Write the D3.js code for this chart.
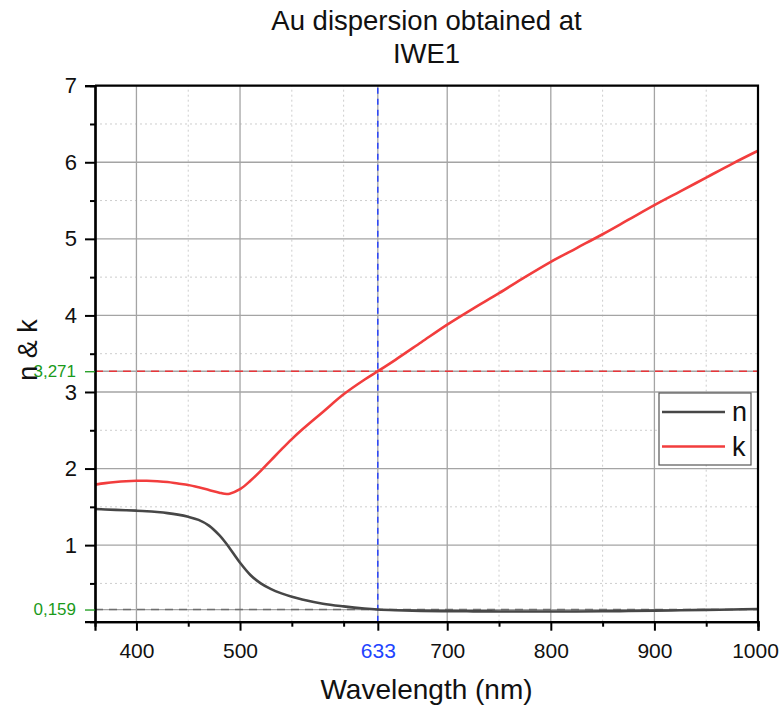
<!DOCTYPE html>
<html>
<head>
<meta charset="utf-8">
<script src="https://cdn.jsdelivr.net/npm/d3@7"></script>
<style>
  body { margin: 0; background: #fff; }
  svg { font-family: Arial, "Liberation Sans", sans-serif; }
</style>
</head>
<body>
<svg id="chart" width="781" height="711"></svg>
<script>
// wavelengths (nm) and the two dispersion series
let wavelength = [360, 370, 380, 390, 400, 410, 420, 430, 440, 450, 460, 470, 480, 485, 490, 500, 510, 520, 530, 540, 550, 560, 580, 600, 620, 633, 650, 675, 700, 725, 750, 775, 800, 825, 850, 875, 900, 925, 950, 975, 1000]
let n_values = [1.472, 1.465, 1.46, 1.455, 1.45, 1.443, 1.432, 1.418, 1.398, 1.37, 1.33, 1.255, 1.13, 1.05, 0.96, 0.77, 0.61, 0.5, 0.425, 0.37, 0.325, 0.29, 0.235, 0.2, 0.172, 0.159, 0.15, 0.142, 0.138, 0.135, 0.134, 0.133, 0.133, 0.134, 0.136, 0.14, 0.144, 0.149, 0.154, 0.16, 0.165]
let k_values = [1.79, 1.81, 1.825, 1.835, 1.84, 1.84, 1.835, 1.825, 1.805, 1.785, 1.755, 1.72, 1.685, 1.67, 1.672, 1.73, 1.84, 1.97, 2.11, 2.25, 2.385, 2.51, 2.74, 2.97, 3.16, 3.271, 3.42, 3.65, 3.88, 4.09, 4.29, 4.5, 4.7, 4.88, 5.06, 5.25, 5.44, 5.62, 5.8, 5.98, 6.15]

let x_major = [400, 500, 633, 700, 800, 900, 1000]
let x_minor = [450, 550, 600, 750, 850, 950]
let y_major = [1, 2, 3, 4, 5, 6, 7]
let y_minor = [0.5, 1.5, 2.5, 3.5, 4.5, 5.5, 6.5]
let marker_wavelength = 633
let marker_k = 3.271
let marker_n = 0.159

let series = [
  {name: "n", values: n_values, color: "#474747"},
  {name: "k", values: k_values, color: "#f23d3d"}
]

function make_scales(margin, width, height) {
  return {
    x: d3.scaleLinear().domain([360, 1000]).range([margin.left, width - margin.right]),
    y: d3.scaleLinear().domain([0, 7]).range([height - margin.bottom, margin.top])
  }
}

function draw_grid(svg, scales) {
  let g = svg.append("g")
  let [x0, x1] = scales.x.range()
  let [y0, y1] = scales.y.range()

  g.selectAll(".xminor").data(x_minor).enter().append("line")
    .attr("x1", d => scales.x(d)).attr("x2", d => scales.x(d))
    .attr("y1", y0).attr("y2", y1)
    .attr("stroke", "#cdcdcd").attr("stroke-dasharray", "2,3")
  g.selectAll(".yminor").data(y_minor).enter().append("line")
    .attr("y1", d => scales.y(d)).attr("y2", d => scales.y(d))
    .attr("x1", x0).attr("x2", x1)
    .attr("stroke", "#cdcdcd").attr("stroke-dasharray", "2,3")

  g.selectAll(".xmajor").data(x_major).enter().append("line")
    .attr("x1", d => scales.x(d)).attr("x2", d => scales.x(d))
    .attr("y1", y0).attr("y2", y1)
    .attr("stroke", "#a4a4a4").attr("stroke-width", 1.3)
  g.selectAll(".ymajor").data(y_major.concat([marker_k, marker_n])).enter().append("line")
    .attr("y1", d => scales.y(d)).attr("y2", d => scales.y(d))
    .attr("x1", x0).attr("x2", x1)
    .attr("stroke", "#a4a4a4").attr("stroke-width", 1.3)
}

function draw_markers(svg, scales) {
  let [x0, x1] = scales.x.range()
  let [y0, y1] = scales.y.range()
  svg.append("line")
    .attr("x1", x0).attr("x2", x1)
    .attr("y1", scales.y(marker_k)).attr("y2", scales.y(marker_k))
    .attr("stroke", "#e8363a").attr("stroke-width", 1.4).attr("stroke-dasharray", "8,6")
  svg.append("line")
    .attr("x1", x0).attr("x2", x1)
    .attr("y1", scales.y(marker_n)).attr("y2", scales.y(marker_n))
    .attr("stroke", "#6e6e6e").attr("stroke-width", 1.4).attr("stroke-dasharray", "8,6")
  svg.append("line")
    .attr("x1", scales.x(marker_wavelength)).attr("x2", scales.x(marker_wavelength))
    .attr("y1", y0).attr("y2", y1)
    .attr("stroke", "#1f3cff").attr("stroke-width", 1.4).attr("stroke-dasharray", "6,5")
}

function draw_lines(svg, scales) {
  let line_generator = d3.line()
    .x((d, i) => scales.x(wavelength[i]))
    .y(d => scales.y(d))
    .curve(d3.curveCatmullRom.alpha(0.5))

  svg.append("g").selectAll("path")
    .data(series).enter()
    .append("path")
    .attr("d", d => line_generator(d.values))
    .attr("fill", "none")
    .attr("stroke", d => d.color)
    .attr("stroke-width", 2.6)
}

function draw_axes(svg, scales, margin, width, height) {
  let bottom = height - margin.bottom
  let left = margin.left

  let x_axis = svg.append("g")
    .attr("transform", `translate(0, ${bottom})`)
    .call(d3.axisBottom(scales.x).tickValues(x_major).tickSize(9).tickPadding(12)
      .tickFormat(d3.format("d")))
  x_axis.selectAll("text").attr("font-size", 21)
    .attr("fill", d => d == marker_wavelength ? "#2244ff" : "#111")
    .attr("dx", d => d == 1000 ? -3 : 0)
  x_axis.selectAll(".tick line").attr("stroke-width", 2)

  let x_minor_axis = svg.append("g")
    .attr("transform", `translate(0, ${bottom})`)
    .call(d3.axisBottom(scales.x).tickValues(x_minor).tickSize(5).tickFormat(""))
  x_minor_axis.selectAll(".tick line").attr("stroke-width", 2)

  let y_axis = svg.append("g")
    .attr("transform", `translate(${left}, 0)`)
    .call(d3.axisLeft(scales.y).tickValues(y_major).tickSize(10).tickPadding(8)
      .tickFormat(d3.format("d")))
  y_axis.selectAll("text").attr("font-size", 22).attr("fill", "#111")
  y_axis.selectAll(".tick line").attr("stroke-width", 2)

  let y_minor_axis = svg.append("g")
    .attr("transform", `translate(${left}, 0)`)
    .call(d3.axisLeft(scales.y).tickValues(y_minor).tickSize(5).tickFormat(""))
  y_minor_axis.selectAll(".tick line").attr("stroke-width", 2)

  let y_marks = svg.append("g")
    .attr("transform", `translate(${left}, 0)`)
    .call(d3.axisLeft(scales.y).tickValues([marker_n, marker_k]).tickSize(10).tickPadding(9)
      .tickFormat(d => d3.format(".3f")(d).replace(".", ",")))
  y_marks.select(".domain").remove()
  y_marks.selectAll(".tick line").attr("stroke", "#1a9a1a").attr("stroke-width", 1.3)
  y_marks.selectAll("text").attr("font-size", 17).attr("fill", "#1a9a1a")

  svg.selectAll(".domain").attr("stroke-width", 2.2)

  // frame on top and right
  let [x0, x1] = scales.x.range()
  let [y0, y1] = scales.y.range()
  svg.append("path")
    .attr("d", `M${x0},${y1}H${x1}V${y0}`)
    .attr("fill", "none").attr("stroke", "#000").attr("stroke-width", 2.2)
}

function draw_labels(svg, margin, width, height) {
  let cx = (margin.left + width - margin.right) / 2
  let title = svg.append("text")
    .attr("x", cx).attr("text-anchor", "middle")
    .attr("font-size", 27.5).attr("fill", "#111")
  title.append("tspan").attr("x", cx).attr("y", 30).text("Au dispersion obtained at")
  title.append("tspan").attr("x", cx).attr("y", 63).text("IWE1")

  svg.append("text")
    .attr("x", cx).attr("y", 699)
    .attr("text-anchor", "middle")
    .attr("font-size", 28).attr("fill", "#111")
    .text("Wavelength (nm)")

  svg.append("text")
    .attr("transform", "translate(37, 350) rotate(-90)")
    .attr("text-anchor", "middle")
    .attr("font-size", 27).attr("fill", "#111")
    .text("n & k")
}

function draw_legend(svg) {
  let legend = svg.append("g").attr("transform", "translate(659, 393)")
  legend.append("rect")
    .attr("width", 92).attr("height", 72)
    .attr("fill", "#fff").attr("stroke", "#555").attr("stroke-width", 1.2)
  let items = legend.selectAll(".item").data(series).enter().append("g")
    .attr("transform", (d, i) => `translate(0, ${19 + i * 34.5})`)
  items.append("line")
    .attr("x1", 3).attr("x2", 66)
    .attr("stroke", d => d.color).attr("stroke-width", 2.6)
  items.append("text")
    .attr("x", 73).attr("dy", "0.35em")
    .attr("font-size", 27).attr("fill", "#111")
    .text(d => d.name)
}

function visualize() {
  let width = 781, height = 711
  let margin = {top: 85.7, right: 23, bottom: 89.3, left: 95}
  let svg = d3.select("#chart")
  let scales = make_scales(margin, width, height)
  draw_grid(svg, scales)
  draw_markers(svg, scales)
  draw_lines(svg, scales)
  draw_axes(svg, scales, margin, width, height)
  draw_labels(svg, margin, width, height)
  draw_legend(svg)
}

visualize()
</script>
</body>
</html>
